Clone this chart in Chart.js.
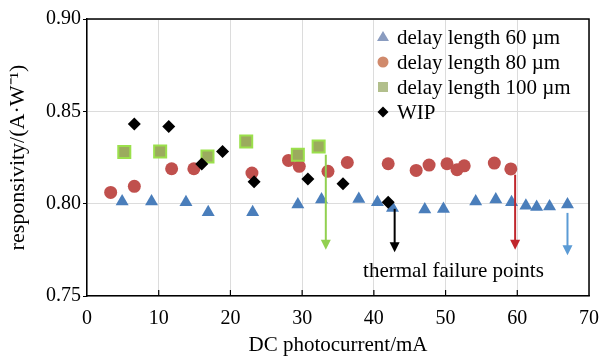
<!DOCTYPE html>
<html>
<head>
<meta charset="utf-8">
<script src="https://cdn.jsdelivr.net/npm/chart.js@4.4.0/dist/chart.umd.min.js"></script>
<style>
  html, body { margin: 0; padding: 0; background: #fff; }
  #wrap { width: 610px; height: 361px; }
</style>
</head>
<body>
<div id="wrap"><canvas id="chart" width="610" height="361"></canvas></div>
<script>
// delay length 60 um (triangles)
const delay60X = [4.9, 9.0, 13.8, 16.9, 23.1, 29.4, 32.7, 37.9, 40.5, 42.6, 47.1, 49.7, 54.2, 57.0, 59.2, 61.2, 62.7, 64.5, 67.0]
const delay60Y = [0.8012, 0.8012, 0.8007, 0.7953, 0.7953, 0.7995, 0.8022, 0.8025, 0.8007, 0.7977, 0.7968, 0.7971, 0.8012, 0.8022, 0.8007, 0.7989, 0.7982, 0.7985, 0.7995]

// delay length 80 um (circles)
const delay80X = [3.3, 6.6, 11.8, 14.9, 23.0, 28.1, 29.6, 33.6, 36.3, 42.0, 45.9, 47.7, 50.2, 51.6, 52.6, 56.8, 59.1]
const delay80Y = [0.8061, 0.8094, 0.8189, 0.8189, 0.8166, 0.8234, 0.8202, 0.8175, 0.8223, 0.8216, 0.8180, 0.8209, 0.8216, 0.8184, 0.8205, 0.8220, 0.8188]

// delay length 100 um (squares)
const delay100X = [5.2, 10.2, 16.8, 22.2, 29.4, 32.3]
const delay100Y = [0.8280, 0.8283, 0.8256, 0.8337, 0.8265, 0.8310]

// WIP (diamonds)
const wipX = [6.6, 11.4, 16.0, 18.9, 23.3, 30.8, 35.7, 42.0]
const wipY = [0.8432, 0.8418, 0.8215, 0.8283, 0.8119, 0.8134, 0.8108, 0.8007]

// thermal failure arrows: x, start value, tip value
const failureX = [33.3, 42.9, 59.7, 67.0]
const failureFrom = [0.8265, 0.7972, 0.8157, 0.7950]
const failureTo = [0.7750, 0.7737, 0.7750, 0.7720]
const failureLabel = 'thermal failure points'
const failureLabelAt = [51.1, 0.7632]

const seriesNames = ['delay length 60 \u00b5m', 'delay length 80 \u00b5m', 'delay length 100 \u00b5m', 'WIP']
const xTicks = [0, 10, 20, 30, 40, 50, 60, 70]
const yTicks = [0.75, 0.80, 0.85, 0.90]

const SERIF = '"Liberation Serif", "Times New Roman", serif'
const arrowColors = ['#92d050', '#000000', '#c0262c', '#5b9bd5']

function pts(xs, ys) {
    return xs.map((v, i) => ({x: v, y: ys[i]}))
}

const extras = {
    id: 'extras',
    afterDatasetsDraw(chart) {
        const {ctx, scales: {x, y}} = chart
        ctx.save()
        failureX.forEach((v, i) => {
            const px = x.getPixelForValue(v)
            const y0 = y.getPixelForValue(failureFrom[i])
            const y1 = y.getPixelForValue(failureTo[i])
            ctx.strokeStyle = arrowColors[i]
            ctx.fillStyle = arrowColors[i]
            ctx.lineWidth = 2
            ctx.beginPath()
            ctx.moveTo(px, y0)
            ctx.lineTo(px, y1 - 8)
            ctx.stroke()
            ctx.beginPath()
            ctx.moveTo(px - 5, y1 - 10)
            ctx.lineTo(px + 5, y1 - 10)
            ctx.lineTo(px, y1)
            ctx.closePath()
            ctx.fill()
        })
        ctx.fillStyle = '#000'
        ctx.font = '21px ' + SERIF
        ctx.textAlign = 'center'
        ctx.textBaseline = 'middle'
        ctx.fillText(failureLabel, x.getPixelForValue(failureLabelAt[0]), y.getPixelForValue(failureLabelAt[1]))
        ctx.restore()
    },
    afterDraw(chart) {
        const {ctx, chartArea: a, scales: {x}} = chart
        ctx.save()
        ctx.strokeStyle = '#000'
        ctx.lineWidth = 1.5
        ctx.beginPath()
        ctx.moveTo(a.left, a.top)
        ctx.lineTo(a.right, a.top)
        ctx.lineTo(a.right, a.bottom)
        ctx.stroke()
        // inward x ticks
        ctx.lineWidth = 1.2
        x.ticks.forEach(t => {
            const px = x.getPixelForValue(t.value)
            if (px <= a.left + 1 || px >= a.right - 1) return
            ctx.beginPath()
            ctx.moveTo(px, a.bottom)
            ctx.lineTo(px, a.bottom - 6)
            ctx.stroke()
        })
        // legend
        const lx = 383, tx = 397
        const rows = [37, 62, 87, 112]
        const legendColors = ['#8a9cc0', '#d08a6c', '#b2bf8c', '#000000']
        ctx.font = '21px ' + SERIF
        ctx.textAlign = 'left'
        ctx.textBaseline = 'middle'
        rows.forEach((ry, i) => {
            ctx.fillStyle = legendColors[i]
            ctx.beginPath()
            if (i === 0) {
                ctx.moveTo(lx, ry - 6)
                ctx.lineTo(lx + 6, ry + 4)
                ctx.lineTo(lx - 6, ry + 4)
            } else if (i === 1) {
                ctx.arc(lx, ry, 5.5, 0, Math.PI * 2)
            } else if (i === 2) {
                ctx.rect(lx - 5, ry - 5, 10, 10)
            } else {
                ctx.moveTo(lx, ry - 5.5)
                ctx.lineTo(lx + 5.5, ry)
                ctx.lineTo(lx, ry + 5.5)
                ctx.lineTo(lx - 5.5, ry)
            }
            ctx.closePath()
            ctx.fill()
            ctx.fillStyle = '#000'
            ctx.fillText(seriesNames[i], tx, ry + 1)
        })
        ctx.restore()
    }
}

new Chart(document.getElementById('chart').getContext('2d'), {
    type: 'scatter',
    data: {
        datasets: [
            {
                label: seriesNames[0],
                data: pts(delay60X, delay60Y),
                pointStyle: 'triangle',
                pointRadius: 7.5,
                backgroundColor: '#4a7ebb',
                borderColor: '#4a7ebb',
                borderWidth: 0,
                order: 3
            },
            {
                label: seriesNames[1],
                data: pts(delay80X, delay80Y),
                pointStyle: 'circle',
                pointRadius: 6.5,
                backgroundColor: '#c0504d',
                borderColor: '#c0504d',
                borderWidth: 0,
                order: 2
            },
            {
                label: seriesNames[2],
                data: pts(delay100X, delay100Y),
                pointStyle: 'rect',
                pointRadius: 8.5,
                backgroundColor: '#9bab5e',
                borderColor: '#9be04c',
                borderWidth: 2,
                order: 1
            },
            {
                label: seriesNames[3],
                data: pts(wipX, wipY),
                pointStyle: 'rectRot',
                pointRadius: 6.5,
                backgroundColor: '#000',
                borderColor: '#000',
                borderWidth: 0,
                order: 0
            }
        ]
    },
    options: {
        responsive: false,
        animation: false,
        devicePixelRatio: 1,
        layout: {padding: {left: 0, right: 14, top: 19, bottom: 0}},
        plugins: {
            legend: {display: false},
            tooltip: {enabled: false}
        },
        scales: {
            x: {
                type: 'linear',
                min: 0,
                max: 70,
                afterBuildTicks: s => { s.ticks = xTicks.map(v => ({value: v})) },
                afterFit: s => { s.height = 65 },
                grid: {color: '#dcdcdc', lineWidth: 1, drawTicks: false},
                border: {color: '#000', width: 1.5},
                ticks: {
                    padding: 11,
                    color: '#000',
                    font: {family: SERIF, size: 20},
                    maxRotation: 0
                },
                title: {
                    display: true,
                    text: 'DC photocurrent/mA',
                    color: '#000',
                    font: {family: SERIF, size: 21},
                    padding: {top: 0, bottom: 3}
                }
            },
            y: {
                type: 'linear',
                min: 0.75,
                max: 0.90,
                afterBuildTicks: s => { s.ticks = yTicks.map(v => ({value: v})) },
                afterFit: s => { s.width = 87 },
                grid: {color: '#dcdcdc', lineWidth: 1, tickLength: 4, tickColor: '#000'},
                border: {color: '#000', width: 1.5},
                ticks: {
                    padding: 2,
                    color: '#000',
                    font: {family: SERIF, size: 20},
                    callback: v => v.toFixed(2)
                },
                title: {
                    display: true,
                    text: 'responsivity/(A\u00b7W\u207b\u00b9)',
                    color: '#000',
                    font: {family: SERIF, size: 22},
                    padding: {top: 5, bottom: 0}
                }
            }
        }
    },
    plugins: [extras]
})
</script>
</body>
</html>
